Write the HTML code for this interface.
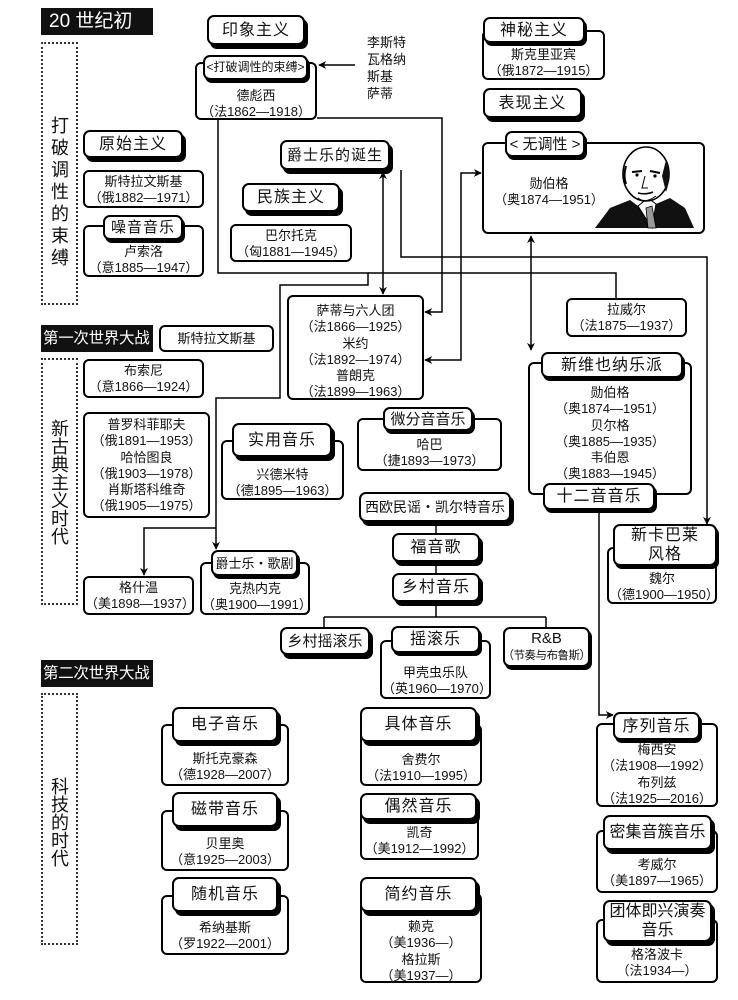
<!DOCTYPE html>
<html><head><meta charset="utf-8">
<style>
html,body{margin:0;padding:0;background:#fff;}
body{width:738px;height:1000px;position:relative;overflow:hidden;font-family:"Liberation Sans","Noto Sans CJK SC",sans-serif;color:#111;}
.t{position:absolute;border:2px solid #000;border-radius:7px;background:#fff;box-shadow:3px 4px 0 #000;display:flex;align-items:center;justify-content:center;font-size:16px;letter-spacing:1px;box-sizing:border-box;text-align:center;line-height:19px;z-index:3;white-space:nowrap;}
.b{position:absolute;border:2px solid #000;border-radius:6px;background:#fff;box-sizing:border-box;font-size:13px;text-align:center;line-height:16.3px;z-index:2;white-space:nowrap;}
.h{position:absolute;background:#111;color:#fff;font-size:18px;line-height:27px;padding-left:8px;box-sizing:border-box;z-index:2;white-space:nowrap;overflow:hidden;}
.d{position:absolute;border:2px dotted #333;box-sizing:border-box;}
.v{position:absolute;font-size:18px;line-height:22px;width:22px;text-align:center;}
.p{position:absolute;font-size:13px;line-height:17px;}
svg.l{position:absolute;left:0;top:0;z-index:1;}
</style></head><body>

<svg class="l" width="738" height="1000" viewBox="0 0 738 1000">
<defs>
<marker id="a" viewBox="0 0 10 10" refX="9" refY="5" markerWidth="8" markerHeight="8" orient="auto-start-reverse" markerUnits="userSpaceOnUse"><path d="M0,0 L10,5 L0,10 L3,5 z" fill="#000"/></marker>
</defs>
<g fill="none" stroke="#000" stroke-width="1.5">
<path d="M355 65 H319" marker-end="url(#a)"/>
<path d="M317 118 H442 V312 H425" marker-end="url(#a)"/>
<path d="M218 120 V273 H368 V285 H280 V398 H216 V549" marker-end="url(#a)"/>
<path d="M216 528 H144 V575" marker-end="url(#a)"/>
<path d="M368 273 H616 V298"/>
<path d="M401 170 V257 H707 V524" marker-end="url(#a)"/>
<path d="M383 172 V294" marker-start="url(#a)" marker-end="url(#a)"/>
<path d="M481 173 H461 V360 H425" marker-start="url(#a)" marker-end="url(#a)"/>
<path d="M531 236 V350" marker-start="url(#a)" marker-end="url(#a)"/>
<path d="M599 510 V715 H613" marker-end="url(#a)"/>
<path d="M436 520 V534 M436 562 V574 M436 602 V617 M324 617 H546 M324 617 V628 M546 617 V628"/>
</g>
</svg>

<!-- headers -->
<div class="h" style="left:41px;top:8px;width:112px;height:27px;font-size:19px;">20 世纪初</div>
<div class="h" style="left:41px;top:325px;width:112px;height:27px;padding-left:2px;font-size:15.5px;letter-spacing:-0.3px;">第一次世界大战</div>
<div class="h" style="left:41px;top:660px;width:112px;height:27px;padding-left:2px;font-size:15.5px;letter-spacing:-0.3px;">第二次世界大战</div>

<div class="d" style="left:41px;top:42px;width:37px;height:263px;"></div>
<div class="v" style="left:49px;top:115px;">打<br>破<br>调<br>性<br>的<br>束<br>缚</div>
<div class="d" style="left:41px;top:358px;width:37px;height:247px;"></div>
<div class="v" style="left:49px;top:420px;line-height:18px;">新<br>古<br>典<br>主<br>义<br>时<br>代</div>
<div class="d" style="left:41px;top:693px;width:37px;height:252px;"></div>
<div class="v" style="left:49px;top:778px;line-height:18px;">科<br>技<br>的<br>时<br>代</div>

<!-- top section -->
<div class="t" style="left:207px;top:15px;width:98px;height:30px;">印象主义</div>
<div class="b" style="left:195px;top:62px;width:122px;height:58px;padding-top:24px;">德彪西<br>（法1862—1918）</div>
<div class="t" style="left:203px;top:55px;width:105px;height:25px;font-size:12px;letter-spacing:0;box-shadow:2px 3px 0 #000;">&lt;打破调性的束缚&gt;</div>
<div class="p" style="left:367px;top:34px;">李斯特<br>瓦格纳<br>斯基<br>萨蒂</div>

<div class="t" style="left:83px;top:130px;width:100px;height:28px;">原始主义</div>
<div class="b" style="left:83px;top:170px;width:121px;height:38px;padding-top:2px;">斯特拉文斯基<br>（俄1882—1971）</div>
<div class="b" style="left:83px;top:225px;width:121px;height:52px;padding-top:17px;">卢索洛<br>（意1885—1947）</div>
<div class="t" style="left:103px;top:215px;width:80px;height:25px;box-shadow:2px 3px 0 #000;font-size:15px;">噪音音乐</div>

<div class="t" style="left:280px;top:140px;width:110px;height:30px;font-size:15px;">爵士乐的诞生</div>
<div class="t" style="left:242px;top:183px;width:98px;height:29px;">民族主义</div>
<div class="b" style="left:230px;top:224px;width:122px;height:38px;padding-top:2px;">巴尔托克<br>（匈1881—1945）</div>

<div class="b" style="left:482px;top:30px;width:123px;height:50px;padding-top:15px;">斯克里亚宾<br>（俄1872—1915）</div>
<div class="t" style="left:483px;top:17px;width:102px;height:26px;box-shadow:2px 3px 0 #000;">神秘主义</div>
<div class="t" style="left:483px;top:88px;width:99px;height:30px;">表现主义</div>

<div class="b" style="left:482px;top:142px;width:223px;height:92px;padding-top:32px;text-align:left;padding-left:10px;">
<div style="width:110px;text-align:center;">勋伯格<br>（奥1874—1951）</div></div>
<div class="t" style="left:505px;top:131px;width:80px;height:26px;box-shadow:2px 3px 0 #000;letter-spacing:0;font-size:15px;">&lt; 无调性 &gt;</div>
<svg style="position:absolute;left:590px;top:146px;z-index:3" width="110" height="86" viewBox="0 0 110 86">
<path d="M5 82 L20 62 L40 54 L48 60 L62 82 Z" fill="#111"/>
<path d="M62 82 L66 58 L80 52 L95 62 L104 82 Z" fill="#111"/>
<path d="M48 60 L62 82 L66 58 L58 52 Z" fill="#fff" stroke="#000"/>
<path d="M56 62 L62 60 L66 82 L58 82 Z" fill="#999" stroke="#000" stroke-width="0.8"/>
<ellipse cx="56" cy="28" rx="23" ry="27" fill="#fff" stroke="#000" stroke-width="1.6"/>
<path d="M76 14 Q82 30 76 46 L72 30 Z" fill="#111"/>
<path d="M36 20 Q33 30 36 38" stroke="#000" fill="none" stroke-width="2"/>
<path d="M42 26 L52 25 M60 25 L70 27" stroke="#000" stroke-width="2"/>
<circle cx="47" cy="29" r="1.6"/><circle cx="65" cy="30" r="1.6"/>
<path d="M55 30 L52 42 L58 42" stroke="#000" fill="none"/>
<path d="M48 47 Q56 49 63 46" stroke="#000" fill="none" stroke-width="1.5"/>
<path d="M48 52 Q55 58 66 50" stroke="#000" fill="none"/>
</svg>

<div class="b" style="left:287px;top:295px;width:137px;height:105px;padding-top:6px;">萨蒂与六人团<br>（法1866—1925）<br>米约<br>（法1892—1974）<br>普朗克<br>（法1899—1963）</div>
<div class="b" style="left:566px;top:298px;width:121px;height:39px;padding-top:2px;">拉威尔<br>（法1875—1937）</div>

<!-- WWI section -->
<div class="b" style="left:159px;top:325px;width:115px;height:27px;line-height:23px;">斯特拉文斯基</div>
<div class="b" style="left:83px;top:359px;width:121px;height:39px;padding-top:2px;">布索尼<br>（意1866—1924）</div>
<div class="b" style="left:83px;top:412px;width:127px;height:106px;padding-top:3px;">普罗科菲耶夫<br>（俄1891—1953）<br>哈恰图良<br>（俄1903—1978）<br>肖斯塔科维奇<br>（俄1905—1975）</div>
<div class="b" style="left:221px;top:440px;width:123px;height:60px;padding-top:25px;">兴德米特<br>（德1895—1963）</div>
<div class="t" style="left:232px;top:423px;width:100px;height:34px;">实用音乐</div>
<div class="b" style="left:357px;top:418px;width:145px;height:53px;padding-top:17px;">哈巴<br>（捷1893—1973）</div>
<div class="t" style="left:383px;top:407px;width:90px;height:24px;box-shadow:2px 3px 0 #000;letter-spacing:0;font-size:15px;">微分音音乐</div>

<div class="b" style="left:528px;top:362px;width:164px;height:133px;padding-top:21px;">勋伯格<br>（奥1874—1951）<br>贝尔格<br>（奥1885—1935）<br>韦伯恩<br>（奥1883—1945）</div>
<div class="t" style="left:541px;top:352px;width:142px;height:26px;box-shadow:2px 3px 0 #000;">新维也纳乐派</div>
<div class="t" style="left:543px;top:483px;width:112px;height:27px;box-shadow:2px 3px 0 #000;">十二音音乐</div>

<div class="b" style="left:607px;top:547px;width:110px;height:57px;padding-top:22px;">魏尔<br>（德1900—1950）</div>
<div class="t" style="left:613px;top:524px;width:104px;height:42px;box-shadow:2px 3px 0 #000;line-height:19px;">新卡巴莱<br>风格</div>

<div class="t" style="left:359px;top:492px;width:152px;height:30px;letter-spacing:0;font-size:14px;">西欧民谣・凯尔特音乐</div>
<div class="t" style="left:392px;top:533px;width:88px;height:29px;">福音歌</div>
<div class="t" style="left:392px;top:573px;width:88px;height:29px;">乡村音乐</div>

<div class="b" style="left:83px;top:576px;width:111px;height:39px;padding-top:2px;">格什温<br>（美1898—1937）</div>
<div class="b" style="left:200px;top:562px;width:110px;height:53px;padding-top:17px;">克热内克<br>（奥1900—1991）</div>
<div class="t" style="left:211px;top:550px;width:87px;height:26px;box-shadow:2px 3px 0 #000;font-size:13px;letter-spacing:0;">爵士乐・歌剧</div>

<div class="t" style="left:280px;top:627px;width:90px;height:28px;font-size:15px;letter-spacing:0;">乡村摇滚乐</div>
<div class="b" style="left:380px;top:640px;width:111px;height:59px;padding-top:23px;">甲壳虫乐队<br>（英1960—1970）</div>
<div class="t" style="left:391px;top:626px;width:89px;height:27px;box-shadow:2px 3px 0 #000;">摇滚乐</div>
<div class="t" style="left:503px;top:627px;width:87px;height:40px;font-size:11.5px;letter-spacing:-0.5px;line-height:16px;box-shadow:2px 3px 0 #000;"><span><span style="font-size:15px;letter-spacing:0">R&amp;B</span><br>（节奏与布鲁斯）</span></div>

<!-- WWII section -->
<div class="b" style="left:161px;top:724px;width:128px;height:62px;padding-top:25px;">斯托克豪森<br>（德1928—2007）</div>
<div class="t" style="left:172px;top:707px;width:106px;height:35px;">电子音乐</div>
<div class="b" style="left:161px;top:810px;width:128px;height:61px;padding-top:24px;">贝里奥<br>（意1925—2003）</div>
<div class="t" style="left:172px;top:792px;width:106px;height:35px;">磁带音乐</div>
<div class="b" style="left:161px;top:895px;width:128px;height:60px;padding-top:23px;">希纳基斯<br>（罗1922—2001）</div>
<div class="t" style="left:172px;top:877px;width:106px;height:35px;">随机音乐</div>

<div class="b" style="left:360px;top:724px;width:122px;height:62px;padding-top:26px;">舍费尔<br>（法1910—1995）</div>
<div class="t" style="left:360px;top:707px;width:117px;height:35px;">具体音乐</div>
<div class="b" style="left:360px;top:803px;width:119px;height:57px;padding-top:20px;">凯奇<br>（美1912—1992）</div>
<div class="t" style="left:360px;top:793px;width:117px;height:27px;">偶然音乐</div>
<div class="b" style="left:360px;top:893px;width:122px;height:90px;padding-top:24px;">赖克<br>（美1936—）<br>格拉斯<br>（美1937—）</div>
<div class="t" style="left:360px;top:877px;width:117px;height:35px;">简约音乐</div>

<div class="b" style="left:596px;top:723px;width:122px;height:84px;padding-top:17px;">梅西安<br>（法1908—1992）<br>布列兹<br>（法1925—2016）</div>
<div class="t" style="left:613px;top:712px;width:87px;height:28px;box-shadow:2px 3px 0 #000;">序列音乐</div>
<div class="b" style="left:596px;top:830px;width:122px;height:63px;padding-top:25px;">考威尔<br>（美1897—1965）</div>
<div class="t" style="left:603px;top:815px;width:109px;height:35px;letter-spacing:0;">密集音簇音乐</div>
<div class="b" style="left:596px;top:919px;width:122px;height:64px;padding-top:26px;">格洛波卡<br>（法1934—）</div>
<div class="t" style="left:603px;top:900px;width:109px;height:42px;letter-spacing:0;line-height:19px;">团体即兴演奏<br>音乐</div>

</body></html>
